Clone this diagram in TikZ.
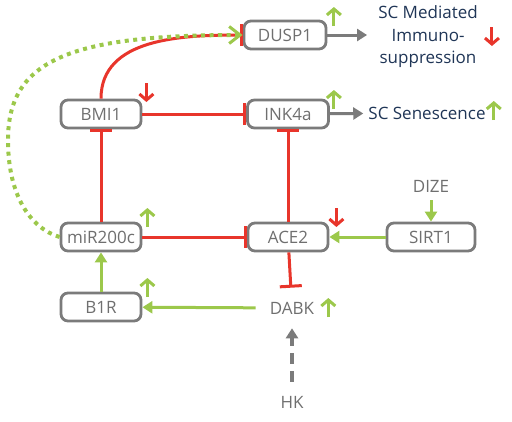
\documentclass[tikz,border=0pt]{standalone}
\usepackage{fontspec}
\setmainfont{Open Sans}
\usetikzlibrary{arrows.meta}

\definecolor{boxgray}{HTML}{7B7B7B}
\definecolor{txtgray}{HTML}{6F6F6F}
\definecolor{inhred}{HTML}{E8352B}
\definecolor{actgreen}{HTML}{9CC84B}
\definecolor{navy}{HTML}{1F3556}

\tikzset{
  gene/.style={draw=boxgray, line width=2.8pt, rounded corners=7pt, minimum height=28pt, minimum width=80pt, inner sep=0pt, text=txtgray},
  lbl/.style={text=txtgray},
  outtxt/.style={text=navy, inner ysep=0pt},
  inhib/.style={draw=inhred, line width=3pt, -{Bar[width=22pt]}},
  act/.style={draw=actgreen, line width=3pt, -{Triangle[width=12pt, length=10pt]}},
  dotact/.style={draw=actgreen, line width=4pt, dash pattern=on 4pt off 4.5pt, -{Straight Barb[width=17pt, length=11pt, line width=3pt]}},
  outar/.style={draw=boxgray, line width=3pt, -{Triangle[width=12pt, length=10pt]}},
  upar/.style={draw=actgreen, line width=3pt, -{Straight Barb[width=14pt, length=6pt]}},
  downar/.style={draw=inhred, line width=3pt, -{Straight Barb[width=14pt, length=6pt]}}
}

\newcommand{\upmark}[1]{\draw[upar] (#1) -- ++(0,-19);}
\newcommand{\downmark}[1]{\draw[downar] (#1) -- ++(0,19);}

\begin{document}
\begin{tikzpicture}[x=1pt, y=-1pt, font=\fontsize{17}{20}\selectfont]
\useasboundingbox (0,0) rectangle (512,421);

%genes
\node[gene, minimum width=82pt] (dusp) at (285,35) {DUSP1};
\node[gene, minimum width=81pt] (ink) at (288,114) {INK4a};
\node[gene] (bmi) at (101,114) {BMI1};
\node[gene] (mir) at (101,237) {miR200c};
\node[gene] (b1r) at (101,307) {B1R};
\node[gene, minimum width=80pt] (ace) at (288,237) {ACE2};
\node[gene, minimum width=88pt] (sirt) at (431,237) {SIRT1};

%other factors
\node[lbl, inner sep=8pt] (dize) at (431,186) {DIZE};
\node[lbl, inner sep=14pt] (dabk) at (292,308) {DABK};
\node[lbl, inner sep=14pt] (hk) at (292,402) {HK};

%outcomes
\node[outtxt, align=center, inner xsep=11pt, font=\fontsize{17}{22.5}\selectfont] (imm) at (428,37) {SC Mediated\\Immuno-\\suppression};
\node[outtxt, inner xsep=5pt] (sen) at (427,113) {SC Senescence};

%inhibition
\draw[inhib] (bmi.north) to[out=90, in=180] (dusp.west);
\draw[inhib] (bmi) -- (ink);
\draw[inhib] (mir) -- (bmi);
\draw[inhib] (mir) -- (ace);
\draw[inhib] (ace) -- (ink);
\draw[inhib] (ace) -- (dabk);

%activation
\draw[act] (sirt) -- (ace);
\draw[act] (dize) -- (sirt);
\draw[act] (dabk) -- (b1r);
\draw[act] (b1r) -- (mir);
\draw[dotact] (mir.west) .. controls (30,228) and (8,195) .. (8,140)
  .. controls (8,60) and (70,35) .. (dusp.west);

%outputs
\draw[outar] (dusp) -- (dusp.east -| imm.west);
\draw[outar] (ink) -- (sen);
\draw[outar, line width=4pt, dash pattern=on 11pt off 7pt] (hk) -- (dabk);

%up and down marks
\upmark{[shift={(6.5,-9)}]dusp.east}
\upmark{[shift={(4,-5)}]ink.east}
\upmark{[shift={(5,-10)}]mir.east}
\upmark{[shift={(5,-10)}]b1r.east}
\upmark{[shift={(0,9)}]dabk.east}
\upmark{[shift={(3,7)}]sen.east}
\downmark{[shift={(4,-31)}]bmi.east}
\downmark{[shift={(7,-29)}]ace.east}
\downmark{[shift={(3,-10)}]imm.east}

\end{tikzpicture}
\end{document}
